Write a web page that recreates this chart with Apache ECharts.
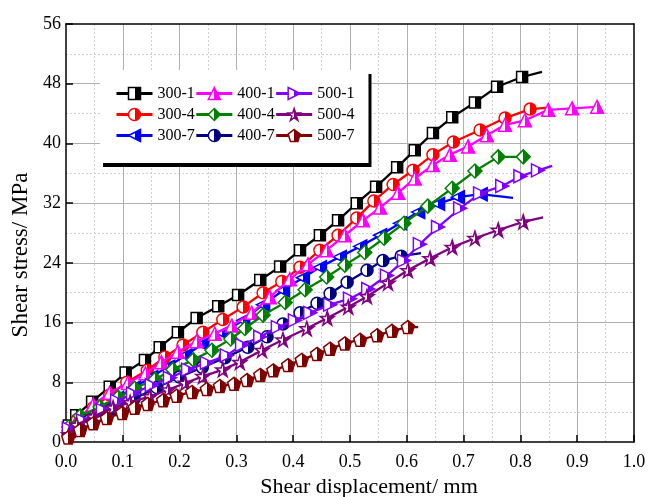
<!DOCTYPE html>
<html>
<head>
<meta charset="utf-8">
<script src="https://cdn.jsdelivr.net/npm/echarts@6/dist/echarts.min.js"></script>
<style>
html, body { margin: 0; padding: 0; background: #fff; }
#chart { width: 651px; height: 497px; }
</style>
</head>
<body>
<div id="chart"></div>
<script>
// Shear stress vs. shear displacement, [displacement mm, stress MPa]
const s300_1 = [[0.005,2.2],[0.018,3.6],[0.046,5.4],[0.077,7.4],[0.105,9.3],[0.139,11.0],[0.165,12.7],[0.197,14.7],[0.23,16.6],[0.268,18.2],[0.303,19.7],[0.342,21.7],[0.377,23.5],[0.412,25.7],[0.447,27.7],[0.479,29.7],[0.512,32.0],[0.546,34.2],[0.583,36.8],[0.614,39.1],[0.646,41.4],[0.68,43.5],[0.72,45.5],[0.759,47.6],[0.803,48.9],[0.838,49.6]];
const s300_4 = [[0.005,1.8],[0.02,3.0],[0.048,4.6],[0.077,6.3],[0.107,8.0],[0.143,9.6],[0.174,11.4],[0.206,13.0],[0.241,14.7],[0.276,16.4],[0.312,18.1],[0.347,20.0],[0.38,21.5],[0.412,23.4],[0.447,25.7],[0.479,27.7],[0.512,30.0],[0.542,32.3],[0.576,34.5],[0.611,36.4],[0.646,38.5],[0.682,40.2],[0.729,41.8],[0.773,43.4],[0.817,44.6],[0.85,44.8]];
const s300_7 = [[0.005,1.5],[0.03,3.0],[0.06,4.4],[0.09,5.9],[0.12,7.3],[0.15,8.7],[0.18,10.1],[0.21,11.6],[0.24,13.1],[0.275,14.6],[0.312,16.3],[0.347,18.4],[0.382,20.3],[0.417,22.0],[0.447,23.4],[0.482,24.8],[0.518,26.2],[0.553,27.7],[0.588,29.3],[0.62,30.8],[0.655,31.9],[0.69,32.8],[0.73,33.2],[0.787,32.7]];
const s400_1 = [[0.005,2.0],[0.02,3.0],[0.048,5.0],[0.077,6.6],[0.109,7.9],[0.14,9.2],[0.168,10.7],[0.197,12.1],[0.23,13.5],[0.262,14.5],[0.292,15.6],[0.327,17.3],[0.359,19.4],[0.394,21.8],[0.426,23.8],[0.459,25.7],[0.491,27.7],[0.523,29.7],[0.553,31.4],[0.585,33.4],[0.614,35.3],[0.646,37.1],[0.676,38.5],[0.708,39.6],[0.741,41.1],[0.773,42.5],[0.808,43.1],[0.849,44.5],[0.891,44.7],[0.935,44.9]];
const s400_4 = [[0.005,2.0],[0.025,3.5],[0.06,4.7],[0.092,6.0],[0.121,7.2],[0.157,8.4],[0.188,9.7],[0.224,11.0],[0.257,12.3],[0.29,13.8],[0.315,15.2],[0.347,17.0],[0.386,18.7],[0.421,20.4],[0.459,22.1],[0.491,23.7],[0.526,25.4],[0.56,27.3],[0.595,29.3],[0.637,31.6],[0.68,34.0],[0.72,36.3],[0.761,38.2],[0.805,38.2]];
const s400_7 = [[0.005,1.2],[0.04,2.8],[0.08,4.3],[0.12,5.8],[0.16,7.3],[0.2,8.7],[0.24,10.0],[0.28,11.3],[0.32,12.7],[0.354,14.1],[0.382,15.8],[0.412,17.3],[0.442,18.6],[0.465,19.9],[0.495,21.4],[0.53,23.0],[0.558,24.3],[0.59,24.9],[0.625,25.3]];
const s500_1 = [[0.005,1.8],[0.03,2.9],[0.065,4.3],[0.09,5.5],[0.118,6.5],[0.151,7.6],[0.183,8.6],[0.215,9.7],[0.248,10.6],[0.283,11.6],[0.31,13.0],[0.342,14.1],[0.373,15.4],[0.403,16.3],[0.43,17.3],[0.465,18.4],[0.5,19.2],[0.532,20.5],[0.565,22.3],[0.595,24.3],[0.623,26.5],[0.655,28.8],[0.694,31.3],[0.729,33.3],[0.768,34.3],[0.8,35.6],[0.831,36.4],[0.856,37.0]];
const s500_4 = [[0.005,1.0],[0.019,2.3],[0.048,3.4],[0.083,4.6],[0.113,5.3],[0.148,6.1],[0.18,7.0],[0.21,7.9],[0.241,8.8],[0.276,9.7],[0.306,10.7],[0.345,12.3],[0.382,13.7],[0.424,15.2],[0.46,16.6],[0.497,18.1],[0.53,19.5],[0.567,21.3],[0.602,23.0],[0.641,24.6],[0.68,26.1],[0.72,27.3],[0.761,28.4],[0.805,29.5],[0.84,30.1]];
const s500_7 = [[0.004,0.6],[0.025,1.6],[0.048,2.5],[0.072,3.2],[0.099,3.9],[0.121,4.6],[0.144,5.1],[0.171,5.6],[0.195,6.2],[0.222,6.7],[0.248,7.1],[0.271,7.5],[0.296,7.8],[0.319,8.3],[0.342,9.0],[0.365,9.6],[0.391,10.3],[0.415,11.0],[0.442,11.8],[0.465,12.5],[0.491,13.2],[0.518,13.7],[0.548,14.3],[0.574,14.9],[0.602,15.4],[0.62,15.4]];

const seriesNames = ['300-1','300-4','300-7','400-1','400-4','400-7','500-1','500-4','500-7'];
const seriesData = [s300_1, s300_4, s300_7, s400_1, s400_4, s400_7, s500_1, s500_4, s500_7];
const legendOrder = ['300-1','400-1','500-1','300-4','400-4','500-4','300-7','400-7','500-7'];

const FONT = '"Liberation Serif", "Times New Roman", serif';

// marker shape, colour and whether the last point is a bare line end
const looks = {
  '300-1': { color: '#000000', symbol: 'rect', size: 11, tail: true },
  '300-4': { color: '#ff0000', symbol: 'circle', size: 12, tail: true },
  '300-7': { color: '#0000ff', symbol: 'path://M0,5L10,0L10,10Z', size: 13, tail: true },
  '400-1': { color: '#ff00ff', symbol: 'triangle', size: 13, tail: false },
  '400-4': { color: '#008000', symbol: 'diamond', size: 14, tail: false },
  '400-7': { color: '#000080', symbol: 'circle', size: 12, tail: true },
  '500-1': { color: '#8000ff', symbol: 'path://M0,0L10,5L0,10Z', size: 13, tail: true },
  '500-4': { color: '#800080', symbol: 'path://M5,0L6.2,3.6L10,3.6L6.9,5.9L8.1,9.5L5,7.3L1.9,9.5L3.1,5.9L0,3.6L3.8,3.6Z', size: 14, tail: true },
  '500-7': { color: '#800000', symbol: 'path://M5,0L10,3.6L8.1,9.5L1.9,9.5L0,3.6Z', size: 13, tail: true }
};

// left half white, right half in the series colour
function halfFill(c) {
  return {
    type: 'linear', x: 0, y: 0, x2: 1, y2: 0,
    colorStops: [
      { offset: 0, color: '#ffffff' }, { offset: 0.5, color: '#ffffff' },
      { offset: 0.5, color: c }, { offset: 1, color: c }
    ]
  };
}

const series = seriesNames.map((name, k) => {
  const lk = looks[name];
  const pts = seriesData[k];
  return {
    type: 'line',
    name: name,
    data: pts.map((p, i) => (lk.tail && i === pts.length - 1) ? { value: p, symbol: 'none' } : p),
    symbol: lk.symbol,
    symbolSize: lk.size,
    showAllSymbol: true,
    smooth: false,
    lineStyle: { color: lk.color, width: 2.3 },
    itemStyle: { color: halfFill(lk.color), borderColor: lk.color, borderWidth: 1.5 },
    emphasis: { disabled: true },
    z: 2 + k
  };
});

const axisFont = { fontFamily: FONT, fontSize: 18, color: '#000' };

const option = {
  animation: false,
  backgroundColor: '#ffffff',
  grid: { left: 66, right: 17, top: 24, bottom: 55, outerBoundsMode: 'none', containLabel: false },
  legend: {
    left: 100, top: 70, width: 240,
    orient: 'horizontal',
    padding: [13, 14, 17, 15],
    itemGap: 0,
    itemWidth: 36, itemHeight: 15,
    backgroundColor: '#ffffff',
    shadowColor: '#000000', shadowBlur: 0, shadowOffsetX: 3, shadowOffsetY: 4,
    textStyle: { fontFamily: FONT, fontSize: 16, color: '#000', lineHeight: 21 },
    data: legendOrder.map(n => ({
      name: n,
      itemStyle: { color: halfFill(looks[n].color), borderColor: looks[n].color, borderWidth: 1.5 },
      lineStyle: { color: looks[n].color, width: 3, opacity: 1 }
    })),
    selectedMode: false
  },
  xAxis: [{
    type: 'value', min: 0, max: 1, interval: 0.1,
    name: 'Shear displacement/ mm', nameLocation: 'middle', nameGap: 30,
    nameTextStyle: { fontFamily: FONT, fontSize: 22, color: '#000', padding: [0, 0, 0, 38] },
    axisLine: { show: true, onZero: false, lineStyle: { color: '#000', width: 1.5 } },
    axisTick: { show: true, inside: true, length: 7, lineStyle: { color: '#000', width: 1.5 } },
    axisLabel: Object.assign({ margin: 11, formatter: v => v.toFixed(1) }, axisFont),
    splitLine: { show: true, showMinLine: false, showMaxLine: false, lineStyle: { color: '#b0b0b0', width: 1 } },
    minorTick: { show: false, splitNumber: 2 },
    minorSplitLine: { show: true, lineStyle: { color: '#d0d0d0', width: 1, type: [2, 2] } }
  }, {
    type: 'value', position: 'top', min: 0, max: 1, z: 10,
    axisLine: { show: true, onZero: false, lineStyle: { color: '#000', width: 1.5 } },
    axisTick: { show: false }, axisLabel: { show: false }, splitLine: { show: false }
  }],
  yAxis: [{
    type: 'value', min: 0, max: 56, interval: 8,
    name: 'Shear stress/ MPa', nameLocation: 'middle', nameGap: 32,
    nameTextStyle: { fontFamily: FONT, fontSize: 23, color: '#000', padding: [0, 44, 0, 0] },
    axisLine: { show: true, onZero: false, lineStyle: { color: '#000', width: 1.5 } },
    axisTick: { show: true, inside: true, length: 7, lineStyle: { color: '#000', width: 1.5 } },
    axisLabel: Object.assign({ margin: 5 }, axisFont),
    splitLine: { show: true, showMinLine: false, showMaxLine: false, lineStyle: { color: '#b0b0b0', width: 1 } },
    minorTick: { show: false, splitNumber: 2 },
    minorSplitLine: { show: true, lineStyle: { color: '#d0d0d0', width: 1, type: [2, 2] } }
  }, {
    type: 'value', position: 'right', min: 0, max: 56, z: 10,
    axisLine: { show: true, onZero: false, lineStyle: { color: '#000', width: 1.5 } },
    axisTick: { show: false }, axisLabel: { show: false }, splitLine: { show: false }
  }],
  series: series
};

const chart = echarts.init(document.getElementById('chart'), null, { renderer: 'canvas' });
chart.setOption(option);
</script>
</body>
</html>
